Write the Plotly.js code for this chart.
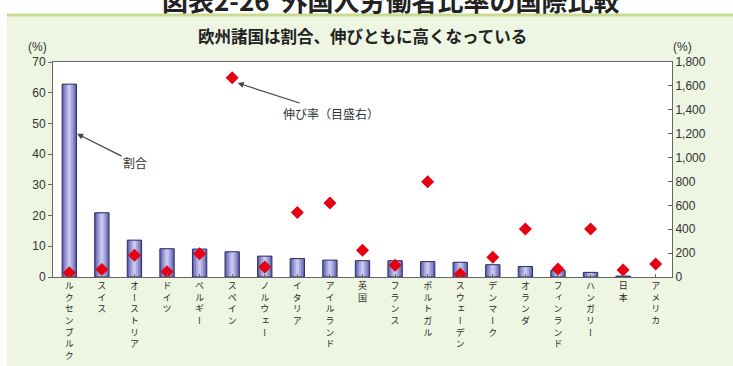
<!DOCTYPE html>
<html>
<head>
<meta charset="utf-8">
<script src="https://cdn.plot.ly/plotly-3.0.1.min.js"></script>
<style>
  html, body { margin: 0; padding: 0; background: #ffffff; }
  #chart { width: 733px; height: 366px; }
  /* stack katakana in upright vertical forms (ー becomes a vertical bar, small kana shift) */
  .xtick text { font-feature-settings: "vert" 1; }
</style>
</head>
<body>
<div id="chart"></div>
<script>
// 外国人労働者比率（%）と伸び率（%）
const countries = ["ルクセンブルク", "スイス", "オーストリア", "ドイツ", "ベルギー", "スペイン",
  "ノルウェー", "イタリア", "アイルランド", "英国", "フランス", "ポルトガル", "スウェーデン",
  "デンマーク", "オランダ", "フィンランド", "ハンガリー", "日本", "アメリカ"];
const shareRatio = [62.8, 20.9, 12.0, 9.2, 9.1, 8.2, 6.8, 6.0, 5.5, 5.3, 5.3, 5.0, 4.8,
  4.0, 3.4, 2.2, 1.5, 0.3, null];
const growthRate = [35, 62, 182, 45, 194, 1668, 84, 541, 620, 224, 98, 797, 25,
  165, 401, 67, 401, 59, 109];
const leftTicks = [0, 10, 20, 30, 40, 50, 60, 70];
const rightTicks = [0, 200, 400, 600, 800, 1000, 1200, 1400, 1600, 1800];

// plot-area geometry in pixels
const W = 733, H = 366;
const PL = 53, PR = 672, PT = 62, PB = 277;
const px = x => (x - PL) / (PR - PL);
const py = y => (PB - y) / (PB - PT);

const idx = countries.map((_, i) => i);
const stacked = countries.map(c => Array.from(c).join('<br>'));

const jp = '"Noto Sans CJK JP", "Noto Sans", sans-serif';
const num = '"Liberation Sans", Arial, sans-serif';

// layered bars give the cylinder-like shading
const shades = [
  { w: 0.44, c: '#6262ae' },
  { w: 0.34, c: '#8585c8' },
  { w: 0.22, c: '#a8a8de' },
  { w: 0.10, c: '#c6c6ef' }
];
const traces = shades.map(s => ({
  type: 'bar', x: idx, y: shareRatio, width: s.w,
  marker: { color: s.c, line: { width: 0 } },
  hoverinfo: 'skip', showlegend: false
}));
traces.push({
  type: 'bar', x: idx, y: shareRatio, width: 0.44,
  marker: { color: 'rgba(0,0,0,0)', line: { color: '#2e2e62', width: 1 } },
  name: '割合', showlegend: false
});
traces.push({
  type: 'scatter', mode: 'markers', x: idx, y: growthRate, yaxis: 'y2',
  marker: { symbol: 'diamond', size: 10, color: '#e60012' },
  name: '伸び率', showlegend: false
});

const layout = {
  width: W, height: H,
  margin: { l: PL, r: W - PR, t: PT, b: H - PB, pad: 0 },
  paper_bgcolor: '#eef5e2',
  plot_bgcolor: '#ffffff',
  barmode: 'overlay',
  font: { family: jp, color: '#333' },
  xaxis: {
    range: [-0.5, 18.5], tickmode: 'array', tickvals: idx, ticktext: stacked,
    tickson: 'boundaries', ticks: 'inside', ticklen: 3, tickcolor: '#666',
    showline: true, mirror: true, linecolor: '#666', linewidth: 1,
    showgrid: false, zeroline: false, tickangle: 0,
    tickfont: { family: jp, size: 9, color: '#2a2a2a' }
  },
  yaxis: {
    range: [0, 70], tickmode: 'array', tickvals: leftTicks,
    ticks: 'outside', ticklen: 4, tickcolor: '#666',
    showline: true, linecolor: '#666', linewidth: 1,
    showgrid: false, zeroline: false,
    tickfont: { family: num, size: 12, color: '#333' }
  },
  yaxis2: {
    range: [0, 1800], overlaying: 'y', side: 'right',
    tickmode: 'array', tickvals: rightTicks, tickformat: ',d',
    ticks: 'inside', ticklen: 4, tickcolor: '#666',
    showline: true, linecolor: '#666', linewidth: 1,
    showgrid: false, zeroline: false,
    tickfont: { family: num, size: 12, color: '#333' }
  },
  shapes: [
    { type: 'rect', xref: 'paper', yref: 'paper', x0: px(0), x1: px(W), y0: py(0), y1: py(14),
      fillcolor: '#ffffff', line: { width: 0 }, layer: 'below' },
    { type: 'rect', xref: 'paper', yref: 'paper', x0: px(0), x1: px(7), y0: py(0), y1: py(H),
      fillcolor: '#ffffff', line: { width: 0 }, layer: 'below' },
    { type: 'rect', xref: 'paper', yref: 'paper', x0: px(7), x1: px(W), y0: py(13.5), y1: py(16.5),
      fillcolor: '#c9dd92', line: { width: 0 }, layer: 'below' }
  ],
  annotations: [
    { text: '図表2-26  外国人労働者比率の国際比較', xref: 'paper', yref: 'paper',
      x: px(390), y: py(0), xanchor: 'center', yanchor: 'middle', showarrow: false,
      font: { family: jp, size: 26, color: '#222', weight: 'bold' } },
    { text: '欧州諸国は割合、伸びともに高くなっている', xref: 'paper', yref: 'paper',
      x: px(362), y: py(36), xanchor: 'center', yanchor: 'middle', showarrow: false,
      font: { family: jp, size: 16.5, color: '#222', weight: 'bold' } },
    { text: '(%)', xref: 'paper', yref: 'paper', x: px(37), y: py(47),
      xanchor: 'center', yanchor: 'middle', showarrow: false,
      font: { family: num, size: 12, color: '#333' } },
    { text: '(%)', xref: 'paper', yref: 'paper', x: px(682), y: py(47),
      xanchor: 'center', yanchor: 'middle', showarrow: false,
      font: { family: num, size: 12, color: '#333' } },
    { text: '割合', xref: 'x', yref: 'y', x: 0.24, y: 46.6,
      showarrow: true, ax: 58, ay: 29, arrowhead: 2, arrowsize: 1, arrowwidth: 1.2,
      arrowcolor: '#444', standoff: 0,
      font: { family: jp, size: 12, color: '#333' } },
    { text: '伸び率（目盛右）', xref: 'x', yref: 'y2', x: 5.17, y: 1624,
      showarrow: true, ax: 93, ay: 30, arrowhead: 2, arrowsize: 1, arrowwidth: 1.2,
      arrowcolor: '#444', standoff: 0,
      font: { family: jp, size: 12, color: '#333' } }
  ]
};

Plotly.newPlot('chart', traces, layout, { staticPlot: true, displayModeBar: false });
</script>
</body>
</html>
